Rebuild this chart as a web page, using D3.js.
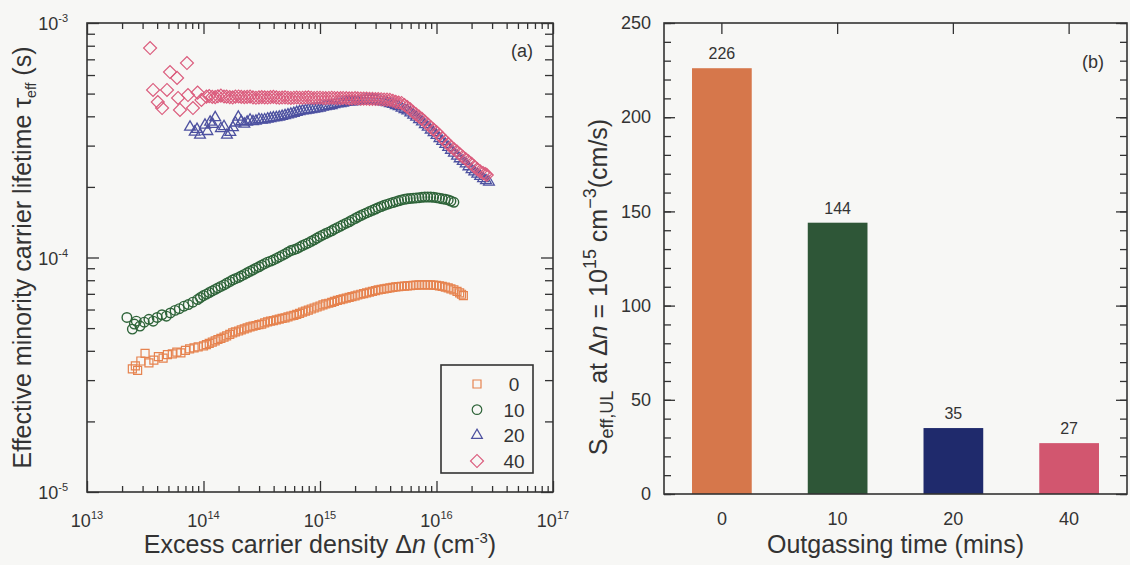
<!DOCTYPE html>
<html><head><meta charset="utf-8">
<script src="https://cdn.jsdelivr.net/npm/d3@7"></script>
<style>
body{margin:0;background:#f7f7f5}
svg{display:block;font-family:"Liberation Sans",Arial,Helvetica,sans-serif}
</style>
</head><body>
<svg id="c" width="1130" height="565"></svg>
<script>
// ---------------- data: panel (a)  [Δn (cm^-3), τeff (s)] ----------------
const seriesNames = ["0", "10", "20", "40"];

const series0 = [
  [2.45e13,3.35e-5],[2.60e13,3.45e-5],[2.72e13,3.30e-5],[2.90e13,3.62e-5],[3.15e13,3.90e-5],[3.40e13,3.55e-5],[3.75e13,3.65e-5],[4.10e13,3.78e-5],
  [4.50e13,3.72e-5],[4.90e13,3.85e-5],[5.40e13,3.88e-5],[5.90e13,3.95e-5],[6.40e13,3.92e-5],[7.00e13,4.02e-5],[7.60e13,4.08e-5],[8.30e13,4.12e-5],[9.00e13,4.16e-5],
  [1.00e14,4.20e-5],[1.06e14,4.25e-5],[1.12e14,4.30e-5],[1.19e14,4.36e-5],[1.26e14,4.41e-5],[1.33e14,4.47e-5],[1.41e14,4.52e-5],[1.50e14,4.58e-5],
  [1.58e14,4.63e-5],[1.68e14,4.70e-5],[1.78e14,4.77e-5],[1.88e14,4.82e-5],[2.00e14,4.86e-5],[2.11e14,4.91e-5],[2.24e14,4.96e-5],[2.37e14,5.01e-5],
  [2.51e14,5.06e-5],[2.66e14,5.10e-5],[2.82e14,5.13e-5],[2.99e14,5.17e-5],[3.16e14,5.20e-5],[3.35e14,5.26e-5],[3.55e14,5.31e-5],[3.76e14,5.35e-5],
  [3.98e14,5.38e-5],[4.22e14,5.42e-5],[4.47e14,5.46e-5],[4.73e14,5.50e-5],[5.01e14,5.53e-5],[5.31e14,5.58e-5],[5.62e14,5.63e-5],[5.96e14,5.67e-5],
  [6.31e14,5.72e-5],[6.68e14,5.78e-5],[7.08e14,5.85e-5],[7.50e14,5.91e-5],[7.94e14,5.97e-5],[8.41e14,6.03e-5],[8.91e14,6.09e-5],[9.44e14,6.15e-5],
  [1.00e15,6.21e-5],[1.06e15,6.28e-5],[1.12e15,6.34e-5],[1.19e15,6.38e-5],[1.26e15,6.43e-5],[1.33e15,6.50e-5],[1.41e15,6.56e-5],[1.50e15,6.61e-5],
  [1.58e15,6.66e-5],[1.68e15,6.71e-5],[1.78e15,6.76e-5],[1.88e15,6.81e-5],[2.00e15,6.86e-5],[2.11e15,6.92e-5],[2.24e15,6.97e-5],[2.37e15,7.01e-5],
  [2.51e15,7.06e-5],[2.66e15,7.12e-5],[2.82e15,7.17e-5],[2.99e15,7.22e-5],[3.16e15,7.27e-5],[3.35e15,7.31e-5],[3.55e15,7.35e-5],[3.76e15,7.39e-5],
  [3.98e15,7.42e-5],[4.22e15,7.46e-5],[4.47e15,7.49e-5],[4.73e15,7.51e-5],[5.01e15,7.53e-5],[5.31e15,7.55e-5],[5.62e15,7.57e-5],[5.96e15,7.59e-5],
  [6.31e15,7.60e-5],[6.68e15,7.62e-5],[7.08e15,7.64e-5],[7.50e15,7.64e-5],[7.94e15,7.64e-5],[8.41e15,7.64e-5],[8.91e15,7.64e-5],[9.44e15,7.62e-5],
  [1.00e16,7.60e-5],[1.06e16,7.57e-5],[1.12e16,7.53e-5],[1.19e16,7.48e-5],[1.26e16,7.42e-5],[1.33e16,7.35e-5],[1.41e16,7.27e-5],[1.50e16,7.17e-5],
  [1.58e16,7.06e-5],[1.64e16,6.97e-5],[1.70e16,6.88e-5]
];

const series10 = [
  [2.20e13,5.55e-5],[2.45e13,4.95e-5],[2.55e13,5.20e-5],[2.65e13,5.35e-5],[2.85e13,5.10e-5],[3.10e13,5.30e-5],[3.40e13,5.45e-5],[3.70e13,5.35e-5],
  [4.00e13,5.55e-5],[4.40e13,5.70e-5],[4.80e13,5.62e-5],[5.20e13,5.80e-5],[5.70e13,5.95e-5],[6.20e13,6.05e-5],[6.80e13,6.20e-5],[7.40e13,6.30e-5],
  [8.10e13,6.45e-5],[8.90e13,6.62e-5],[9.40e13,6.75e-5],
  [1.00e14,6.88e-5],[1.06e14,6.98e-5],[1.12e14,7.09e-5],[1.19e14,7.20e-5],[1.26e14,7.31e-5],[1.33e14,7.42e-5],[1.41e14,7.53e-5],[1.50e14,7.64e-5],
  [1.58e14,7.76e-5],[1.68e14,7.89e-5],[1.78e14,8.02e-5],[1.88e14,8.12e-5],[2.00e14,8.22e-5],[2.11e14,8.34e-5],[2.24e14,8.47e-5],[2.37e14,8.60e-5],
  [2.51e14,8.73e-5],[2.66e14,8.86e-5],[2.82e14,9.00e-5],[2.99e14,9.13e-5],[3.16e14,9.27e-5],[3.35e14,9.41e-5],[3.55e14,9.55e-5],[3.76e14,9.65e-5],
  [3.98e14,9.76e-5],[4.22e14,9.91e-5],[4.47e14,1.006e-4],[4.73e14,1.021e-4],[5.01e14,1.036e-4],[5.31e14,1.053e-4],[5.62e14,1.070e-4],[5.96e14,1.080e-4],
  [6.31e14,1.090e-4],[6.68e14,1.107e-4],[7.08e14,1.125e-4],[7.50e14,1.140e-4],[7.94e14,1.154e-4],[8.41e14,1.172e-4],[8.91e14,1.190e-4],[9.44e14,1.210e-4],
  [1.00e15,1.230e-4],[1.06e15,1.248e-4],[1.12e15,1.265e-4],[1.19e15,1.283e-4],[1.26e15,1.300e-4],[1.33e15,1.320e-4],[1.41e15,1.340e-4],[1.50e15,1.360e-4],
  [1.58e15,1.380e-4],[1.68e15,1.400e-4],[1.78e15,1.420e-4],[1.88e15,1.443e-4],[2.00e15,1.465e-4],[2.11e15,1.488e-4],[2.24e15,1.510e-4],[2.37e15,1.530e-4],
  [2.51e15,1.550e-4],[2.66e15,1.570e-4],[2.82e15,1.590e-4],[2.99e15,1.610e-4],[3.16e15,1.630e-4],[3.35e15,1.650e-4],[3.55e15,1.670e-4],[3.76e15,1.685e-4],
  [3.98e15,1.700e-4],[4.22e15,1.715e-4],[4.47e15,1.730e-4],[4.73e15,1.745e-4],[5.01e15,1.760e-4],[5.31e15,1.770e-4],[5.62e15,1.780e-4],[5.96e15,1.785e-4],
  [6.31e15,1.790e-4],[6.68e15,1.795e-4],[7.08e15,1.800e-4],[7.50e15,1.805e-4],[7.94e15,1.810e-4],[8.41e15,1.810e-4],[8.91e15,1.810e-4],[9.44e15,1.805e-4],
  [1.00e16,1.800e-4],[1.06e16,1.790e-4],[1.12e16,1.780e-4],[1.19e16,1.770e-4],[1.26e16,1.760e-4],[1.33e16,1.740e-4],[1.41e16,1.720e-4]
];

const series20 = [
  [7.66e13,3.60e-4],[8.40e13,3.43e-4],[8.80e13,3.52e-4],[9.33e13,3.33e-4],[1.03e14,3.67e-4],[1.08e14,3.45e-4],[1.14e14,3.78e-4],[1.20e14,3.70e-4],
  [1.26e14,3.95e-4],[1.41e14,3.55e-4],[1.50e14,3.62e-4],[1.59e14,3.33e-4],[1.70e14,3.42e-4],[1.79e14,3.58e-4],[1.88e14,3.75e-4],[1.99e14,3.97e-4],
  [2.11e14,3.80e-4],[2.24e14,3.71e-4],[2.37e14,3.78e-4],
  [2.51e14,3.86e-4],[2.66e14,3.80e-4],[2.82e14,3.82e-4],[2.99e14,3.88e-4],[3.16e14,3.86e-4],[3.35e14,3.87e-4],[3.55e14,3.90e-4],[3.76e14,3.92e-4],
  [3.98e14,3.94e-4],[4.22e14,3.95e-4],[4.47e14,3.97e-4],[4.73e14,4.00e-4],[5.01e14,4.03e-4],[5.31e14,4.06e-4],[5.62e14,4.09e-4],[5.96e14,4.12e-4],
  [6.31e14,4.16e-4],[6.68e14,4.19e-4],[7.08e14,4.22e-4],[7.50e14,4.24e-4],[7.94e14,4.26e-4],[8.41e14,4.28e-4],[8.91e14,4.30e-4],[9.44e14,4.32e-4],
  [1.00e15,4.34e-4],[1.06e15,4.38e-4],[1.12e15,4.41e-4],[1.19e15,4.43e-4],[1.26e15,4.45e-4],[1.33e15,4.49e-4],[1.41e15,4.52e-4],[1.50e15,4.54e-4],
  [1.58e15,4.56e-4],[1.68e15,4.59e-4],[1.78e15,4.61e-4],[1.88e15,4.62e-4],[2.00e15,4.63e-4],[2.11e15,4.64e-4],[2.24e15,4.65e-4],[2.37e15,4.67e-4],
  [2.51e15,4.68e-4],[2.66e15,4.68e-4],[2.82e15,4.68e-4],[2.99e15,4.67e-4],[3.16e15,4.65e-4],[3.35e15,4.63e-4],[3.55e15,4.61e-4],[3.76e15,4.58e-4],
  [3.98e15,4.54e-4],[4.22e15,4.50e-4],[4.47e15,4.45e-4],[4.73e15,4.40e-4],[5.01e15,4.34e-4],[5.31e15,4.28e-4],[5.62e15,4.22e-4],[5.96e15,4.14e-4],
  [6.31e15,4.05e-4],[6.68e15,3.97e-4],[7.08e15,3.88e-4],[7.50e15,3.79e-4],[7.94e15,3.69e-4],[8.41e15,3.60e-4],[8.91e15,3.50e-4],[9.44e15,3.41e-4],
  [1.00e16,3.32e-4],[1.06e16,3.22e-4],[1.12e16,3.13e-4],[1.19e16,3.04e-4],[1.26e16,2.95e-4],[1.33e16,2.87e-4],[1.41e16,2.79e-4],[1.50e16,2.71e-4],
  [1.58e16,2.64e-4],[1.68e16,2.57e-4],[1.78e16,2.51e-4],[1.88e16,2.44e-4],[2.00e16,2.37e-4],[2.11e16,2.32e-4],[2.24e16,2.27e-4],[2.37e16,2.22e-4],
  [2.51e16,2.17e-4],[2.66e16,2.13e-4],[2.82e16,2.10e-4]
];

const series40 = [
  [3.48e13,7.82e-4],[3.69e13,5.18e-4],[4.05e13,4.60e-4],[4.41e13,4.34e-4],[4.86e13,5.18e-4],[5.16e13,6.18e-4],[5.93e13,5.83e-4],[6.05e13,4.79e-4],
  [6.28e13,4.26e-4],[7.21e13,6.75e-4],[7.36e13,4.93e-4],[8.12e13,4.34e-4],[8.90e13,5.05e-4],[9.60e13,4.70e-4],
  [1.06e14,4.85e-4],[1.12e14,4.88e-4],[1.19e14,4.84e-4],[1.26e14,4.83e-4],[1.33e14,4.87e-4],[1.41e14,4.90e-4],[1.50e14,4.86e-4],[1.58e14,4.85e-4],
  [1.68e14,4.83e-4],[1.78e14,4.82e-4],[1.88e14,4.85e-4],[2.00e14,4.86e-4],[2.11e14,4.84e-4],[2.24e14,4.83e-4],[2.37e14,4.84e-4],[2.51e14,4.85e-4],
  [2.66e14,4.82e-4],[2.82e14,4.80e-4],[2.99e14,4.82e-4],[3.16e14,4.83e-4],[3.35e14,4.82e-4],[3.55e14,4.81e-4],[3.76e14,4.83e-4],[3.98e14,4.84e-4],
  [4.22e14,4.82e-4],[4.47e14,4.80e-4],[4.73e14,4.81e-4],[5.01e14,4.82e-4],[5.31e14,4.80e-4],[5.62e14,4.79e-4],[5.96e14,4.80e-4],[6.31e14,4.81e-4],
  [6.68e14,4.80e-4],[7.08e14,4.80e-4],[7.50e14,4.81e-4],[7.94e14,4.82e-4],[8.41e14,4.80e-4],[8.91e14,4.79e-4],[9.44e14,4.80e-4],
  [1.00e15,4.80e-4],[1.06e15,4.79e-4],[1.12e15,4.78e-4],[1.19e15,4.79e-4],[1.26e15,4.80e-4],[1.33e15,4.79e-4],[1.41e15,4.78e-4],[1.50e15,4.78e-4],
  [1.58e15,4.79e-4],[1.68e15,4.78e-4],[1.78e15,4.77e-4],[1.88e15,4.77e-4],[2.00e15,4.78e-4],[2.11e15,4.77e-4],[2.24e15,4.76e-4],[2.37e15,4.76e-4],
  [2.51e15,4.76e-4],[2.66e15,4.75e-4],[2.82e15,4.75e-4],[2.99e15,4.74e-4],[3.16e15,4.74e-4],[3.35e15,4.73e-4],[3.55e15,4.72e-4],[3.76e15,4.71e-4],
  [3.98e15,4.70e-4],[4.22e15,4.66e-4],[4.47e15,4.61e-4],[4.73e15,4.58e-4],[5.01e15,4.56e-4],[5.31e15,4.47e-4],[5.62e15,4.38e-4],[5.96e15,4.28e-4],
  [6.31e15,4.17e-4],[6.68e15,4.08e-4],[7.08e15,3.99e-4],[7.50e15,3.90e-4],[7.94e15,3.80e-4],[8.41e15,3.70e-4],[8.91e15,3.60e-4],[9.44e15,3.51e-4],
  [1.00e16,3.43e-4],[1.06e16,3.33e-4],[1.12e16,3.23e-4],[1.19e16,3.14e-4],[1.26e16,3.05e-4],[1.33e16,2.97e-4],[1.41e16,2.90e-4],[1.50e16,2.83e-4],
  [1.58e16,2.76e-4],[1.68e16,2.69e-4],[1.78e16,2.63e-4],[1.88e16,2.57e-4],[2.00e16,2.51e-4],[2.11e16,2.44e-4],[2.24e16,2.38e-4],[2.37e16,2.33e-4],
  [2.51e16,2.29e-4],[2.62e16,2.27e-4],[2.70e16,2.25e-4]
];

const xMajorTicks = [1e13, 1e14, 1e15, 1e16, 1e17];
const xMajorExp = ["13", "14", "15", "16", "17"];
const yMajorTicks = [1e-5, 1e-4, 1e-3];
const yMajorExp = ["-5", "-4", "-3"];

// ---------------- data: panel (b) ----------------
const outgasTimes = ["0", "10", "20", "40"];
const sEffValues = [226, 144, 35, 27];
const yBarTicks = [0, 50, 100, 150, 200, 250];

// ---------------- styles ----------------
const markerColors = ["#e6834f", "#2e6439", "#4d51a0", "#db5c7d"];
const barColors = ["#d6774b", "#2e5637", "#1f2a6c", "#d2566f"];
const ink = "#333333";
const bg = "#f7f7f5";

const svg = d3.select("#c");
svg.append("rect").attr("width", 1130).attr("height", 565).attr("fill", bg);

function styleAxis(g) {
  g.select(".domain").remove();
  g.selectAll(".tick line").attr("stroke", ink).attr("stroke-width", 1.3);
  g.selectAll(".tick text").attr("fill", ink);
}

// =============== Panel (a) ===============
const A = {l: 87, r: 553, t: 23, b: 492};
const x = d3.scaleLog().domain([1e13, 1e17]).range([A.l, A.r]);
const y = d3.scaleLog().domain([1e-5, 1e-3]).range([A.b, A.t]);
const isDecade = v => Math.abs(Math.log10(v) - Math.round(Math.log10(v))) < 1e-9;
const xMinor = x.ticks().filter(v => !isDecade(v));
const yMinor = y.ticks().filter(v => !isDecade(v));

const ga = svg.append("g");
ga.append("g").attr("transform", `translate(0,${A.b})`).call(d3.axisBottom(x).tickValues(xMinor).tickSize(-6).tickFormat("")).call(styleAxis);
ga.append("g").attr("transform", `translate(0,${A.b})`).call(d3.axisBottom(x).tickValues(xMajorTicks).tickSize(-11).tickFormat("")).call(styleAxis);
ga.append("g").attr("transform", `translate(0,${A.t})`).call(d3.axisTop(x).tickValues(xMinor).tickSize(-6).tickFormat("")).call(styleAxis);
ga.append("g").attr("transform", `translate(0,${A.t})`).call(d3.axisTop(x).tickValues(xMajorTicks).tickSize(-11).tickFormat("")).call(styleAxis);
ga.append("g").attr("transform", `translate(${A.l},0)`).call(d3.axisLeft(y).tickValues(yMinor).tickSize(-8).tickFormat("")).call(styleAxis);
ga.append("g").attr("transform", `translate(${A.l},0)`).call(d3.axisLeft(y).tickValues(yMajorTicks).tickSize(-12).tickFormat("")).call(styleAxis);
ga.append("g").attr("transform", `translate(${A.r},0)`).call(d3.axisRight(y).tickValues(yMinor).tickSize(-8).tickFormat("")).call(styleAxis);
ga.append("g").attr("transform", `translate(${A.r},0)`).call(d3.axisRight(y).tickValues(yMajorTicks).tickSize(-12).tickFormat("")).call(styleAxis);

xMajorTicks.forEach((v, i) => {
  const t = ga.append("text").attr("x", x(v)).attr("y", 527).attr("text-anchor", "middle")
    .attr("font-size", 18).attr("fill", ink);
  t.append("tspan").text("10");
  t.append("tspan").attr("font-size", 11).attr("dy", -8).text(xMajorExp[i]);
});
yMajorTicks.forEach((v, i) => {
  const t = ga.append("text").attr("x", 68).attr("y", y(v) + 7).attr("text-anchor", "end")
    .attr("font-size", 18).attr("fill", ink);
  t.append("tspan").text("10");
  t.append("tspan").attr("font-size", 11).attr("dy", -8).text(yMajorExp[i]);
});

// markers
const symSquare = d3.symbol().type(d3.symbolSquare).size(64);
const symCircle = d3.symbol().type(d3.symbolCircle).size(72);
const symTri = d3.symbol().type(d3.symbolTriangle).size(50);
const symDiamond = d3.symbol().type(d3.symbolSquare).size(84);
const seriesDefs = [
  {data: series0, sym: symSquare, rot: 0, sw: 1.2},
  {data: series10, sym: symCircle, rot: 0, sw: 1.4},
  {data: series20, sym: symTri, rot: 0, sw: 1.3},
  {data: series40, sym: symDiamond, rot: 45, sw: 1.2}
];
const gp = svg.append("g");
seriesDefs.forEach((s, i) => {
  gp.append("g").selectAll("path").data(s.data).join("path")
    .attr("d", s.sym())
    .attr("transform", d => `translate(${x(d[0])},${y(d[1])}) rotate(${s.rot})`)
    .attr("fill", "none").attr("stroke", markerColors[i]).attr("stroke-width", s.sw);
});

ga.append("rect").attr("x", A.l).attr("y", A.t).attr("width", A.r - A.l).attr("height", A.b - A.t)
  .attr("fill", "none").attr("stroke", ink).attr("stroke-width", 1.6);

// legend
const lg = svg.append("g");
lg.append("rect").attr("x", 441).attr("y", 365).attr("width", 92).attr("height", 108)
  .attr("fill", bg).attr("stroke", ink).attr("stroke-width", 1.6);
const legY = d3.scalePoint().domain(seriesNames).range([384, 461]);
seriesNames.forEach((n, i) => {
  lg.append("path").attr("d", seriesDefs[i].sym())
    .attr("transform", `translate(477,${legY(n)}) rotate(${seriesDefs[i].rot})`)
    .attr("fill", "none").attr("stroke", markerColors[i]).attr("stroke-width", 1.2);
  lg.append("text").attr("x", 514).attr("y", legY(n) + 7).attr("text-anchor", "middle")
    .attr("font-size", 19).attr("fill", ink).text(n);
});

ga.append("text").attr("x", 522).attr("y", 57).attr("text-anchor", "middle").attr("font-size", 18).attr("fill", ink).text("(a)");

const xt = svg.append("text").attr("x", (A.l + A.r) / 2).attr("y", 553).attr("text-anchor", "middle")
  .attr("font-size", 25).attr("fill", ink);
xt.append("tspan").text("Excess carrier density Δ");
xt.append("tspan").attr("font-style", "italic").text("n");
xt.append("tspan").text(" (cm");
xt.append("tspan").attr("font-size", 15).attr("dy", -10).text("-3");
xt.append("tspan").attr("dy", 10).text(")");

const yt = svg.append("text").attr("transform", `translate(31,${(A.t + A.b) / 2}) rotate(-90)`)
  .attr("text-anchor", "middle").attr("font-size", 25).attr("fill", ink);
yt.append("tspan").text("Effective minority carrier lifetime τ");
yt.append("tspan").attr("font-size", 14).attr("dy", 5).text("eff");
yt.append("tspan").attr("dy", -5).text(" (s)");

// =============== Panel (b) ===============
const B = {l: 664, r: 1127, t: 23, b: 494};
const xb = d3.scaleBand().domain(outgasTimes).range([B.l, B.r]).paddingInner(0.484).paddingOuter(0.242);
const yb = d3.scaleLinear().domain([0, 250]).range([B.b, B.t]);
const gb = svg.append("g");

gb.append("g").attr("transform", `translate(${B.l},0)`).call(d3.axisLeft(yb).ticks(25).tickSize(-7).tickFormat("")).call(styleAxis);
gb.append("g").attr("transform", `translate(${B.l},0)`).call(d3.axisLeft(yb).tickValues(yBarTicks).tickSize(-11).tickPadding(13)).call(styleAxis)
  .selectAll("text").attr("font-size", 18).attr("font-family", "Liberation Sans, Arial, sans-serif");
gb.append("g").attr("transform", `translate(${B.r},0)`).call(d3.axisRight(yb).ticks(25).tickSize(-7).tickFormat("")).call(styleAxis);
gb.append("g").attr("transform", `translate(${B.r},0)`).call(d3.axisRight(yb).tickValues(yBarTicks).tickSize(-11).tickFormat("")).call(styleAxis);
gb.append("g").attr("transform", `translate(0,${B.t})`).call(d3.axisTop(xb).tickSize(-11).tickFormat("")).call(styleAxis);
gb.append("g").attr("transform", `translate(0,${B.b})`).call(d3.axisBottom(xb).tickSize(0).tickPadding(18)).call(styleAxis)
  .selectAll("text").attr("font-size", 18).attr("font-family", "Liberation Sans, Arial, sans-serif");

gb.append("g").selectAll("rect").data(outgasTimes).join("rect")
  .attr("x", d => xb(d)).attr("y", (d, i) => yb(sEffValues[i]))
  .attr("width", xb.bandwidth()).attr("height", (d, i) => yb(0) - yb(sEffValues[i]))
  .attr("fill", (d, i) => barColors[i]);
gb.append("g").selectAll("text").data(outgasTimes).join("text")
  .attr("x", d => xb(d) + xb.bandwidth() / 2).attr("y", (d, i) => yb(sEffValues[i]) - 9)
  .attr("text-anchor", "middle").attr("font-size", 16).attr("fill", ink)
  .text((d, i) => sEffValues[i]);

gb.append("rect").attr("x", B.l).attr("y", B.t).attr("width", B.r - B.l).attr("height", B.b - B.t)
  .attr("fill", "none").attr("stroke", ink).attr("stroke-width", 1.6);
gb.append("text").attr("x", 1093).attr("y", 68).attr("text-anchor", "middle").attr("font-size", 18).attr("fill", ink).text("(b)");

svg.append("text").attr("x", (B.l + B.r) / 2).attr("y", 553).attr("text-anchor", "middle")
  .attr("font-size", 25).attr("fill", ink).text("Outgassing time (mins)");

const yt2 = svg.append("text").attr("transform", `translate(607,287) rotate(-90)`)
  .attr("text-anchor", "middle").attr("font-size", 25).attr("fill", ink);
yt2.append("tspan").text("S");
yt2.append("tspan").attr("font-size", 18).attr("dy", 6).text("eff,UL");
yt2.append("tspan").attr("dy", -6).text(" at Δ");
yt2.append("tspan").attr("font-style", "italic").text("n");
yt2.append("tspan").text(" = 10");
yt2.append("tspan").attr("font-size", 18).attr("dy", -11).text("15");
yt2.append("tspan").attr("dy", 11).text(" cm");
yt2.append("tspan").attr("font-size", 18).attr("dy", -11).text("−3");
yt2.append("tspan").attr("dy", 11).text("(cm/s)");
</script>
</body></html>
